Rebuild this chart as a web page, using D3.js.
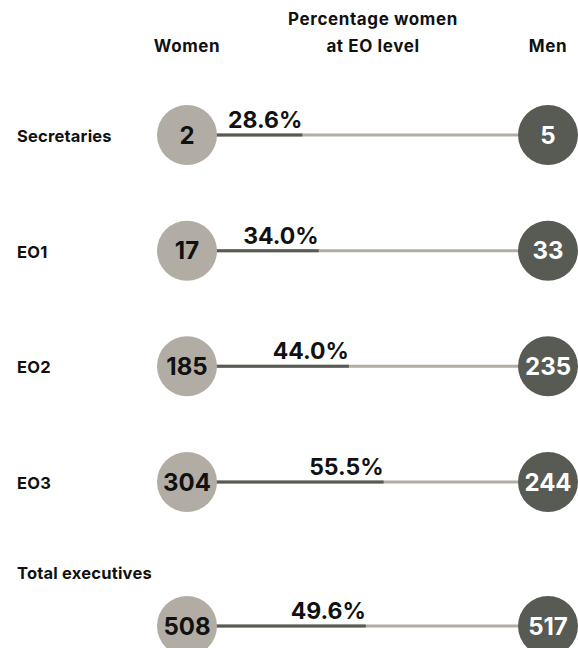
<!DOCTYPE html>
<html>
<head>
<meta charset="utf-8">
<script src="https://cdn.jsdelivr.net/npm/d3@7"></script>
<style>
  html, body { margin: 0; padding: 0; background: #fff; }
  svg text { font-family: Inter, "Noto Sans", sans-serif; font-weight: 700; fill: #111; }
  .hdr { font-size: 17px; letter-spacing: 0.6px; }
  .lbl { font-size: 16.5px; letter-spacing: 0.2px; }
  .num { font-size: 24px; }
</style>
</head>
<body>
<div id="chart"></div>
<script>
// Executive officer levels and head counts
const categories = ["Secretaries", "EO1", "EO2", "EO3", "Total executives"];
const women = [2, 17, 185, 304, 508];
const men = [5, 33, 235, 244, 517];
const pctWomen = [28.6, 34.0, 44.0, 55.5, 49.6];
const headers = { women: "Women", pct: ["Percentage women", "at EO level"], men: "Men" };

const W = 578, H = 648;
const womenFill = "#b1ada5", menFill = "#575b53";
const r = 30;
const xWomen = 187, xMen = 548;

const svg = d3.select("#chart").append("svg")
  .attr("width", W).attr("height", H);

// Row positions: four levels evenly spaced, total row set apart below
const levels = categories.slice(0, 4);
const yLevel = d3.scalePoint().domain(levels).range([135, 482]);
const y = c => levels.includes(c) ? yLevel(c) : yLevel(levels[3]) + 144;

// Percentage scale spans the connector between the two circles
const x = d3.scaleLinear().domain([0, 100]).range([xWomen + r - 1, xMen - r]);

const rows = categories.map((c, i) => ({ c, w: women[i], m: men[i], p: pctWomen[i] }));

// Column headers
svg.append("text").attr("class", "hdr").attr("x", xWomen).attr("y", 52)
  .attr("text-anchor", "middle").text(headers.women);
svg.append("text").attr("class", "hdr").attr("x", 373).attr("y", 25)
  .attr("text-anchor", "middle").text(headers.pct[0]);
svg.append("text").attr("class", "hdr").attr("x", 373).attr("y", 52)
  .attr("text-anchor", "middle").text(headers.pct[1]);
svg.append("text").attr("class", "hdr").attr("x", xMen).attr("y", 52)
  .attr("text-anchor", "middle").text(headers.men);

const g = svg.selectAll("g.row").data(rows).join("g").attr("class", "row");

// Row labels; the total label sits above its row
g.append("text").attr("class", "lbl")
  .attr("x", 17)
  .attr("y", d => d.c === "Total executives" ? y(d.c) - 47 : y(d.c) + 7)
  .text(d => d.c);

// Connector: light full track, dark share for women
g.append("line")
  .attr("x1", x(0)).attr("x2", x(100))
  .attr("y1", d => y(d.c)).attr("y2", d => y(d.c))
  .attr("stroke", womenFill).attr("stroke-width", 3);
g.append("line")
  .attr("x1", x(0)).attr("x2", d => x(d.p))
  .attr("y1", d => y(d.c)).attr("y2", d => y(d.c))
  .attr("stroke", menFill).attr("stroke-width", 3);

// Percentage labels, right-aligned to the end of the women's share
g.append("text")
  .attr("x", d => x(d.p))
  .attr("y", d => y(d.c) - 7)
  .attr("text-anchor", "end")
  .style("font-size", "23px")
  .text(d => d.p.toFixed(1) + "%");

// Circles with counts
g.append("circle").attr("cx", xWomen).attr("cy", d => y(d.c)).attr("r", r).attr("fill", womenFill);
g.append("circle").attr("cx", xMen).attr("cy", d => y(d.c)).attr("r", r).attr("fill", menFill);

g.append("text").attr("class", "num")
  .attr("x", xWomen).attr("y", d => y(d.c)).attr("dy", "0.36em")
  .attr("text-anchor", "middle")
  .text(d => d.w);
g.append("text").attr("class", "num")
  .attr("x", xMen).attr("y", d => y(d.c)).attr("dy", "0.36em")
  .attr("text-anchor", "middle")
  .style("fill", "#fff")
  .text(d => d.m);
</script>
</body>
</html>
